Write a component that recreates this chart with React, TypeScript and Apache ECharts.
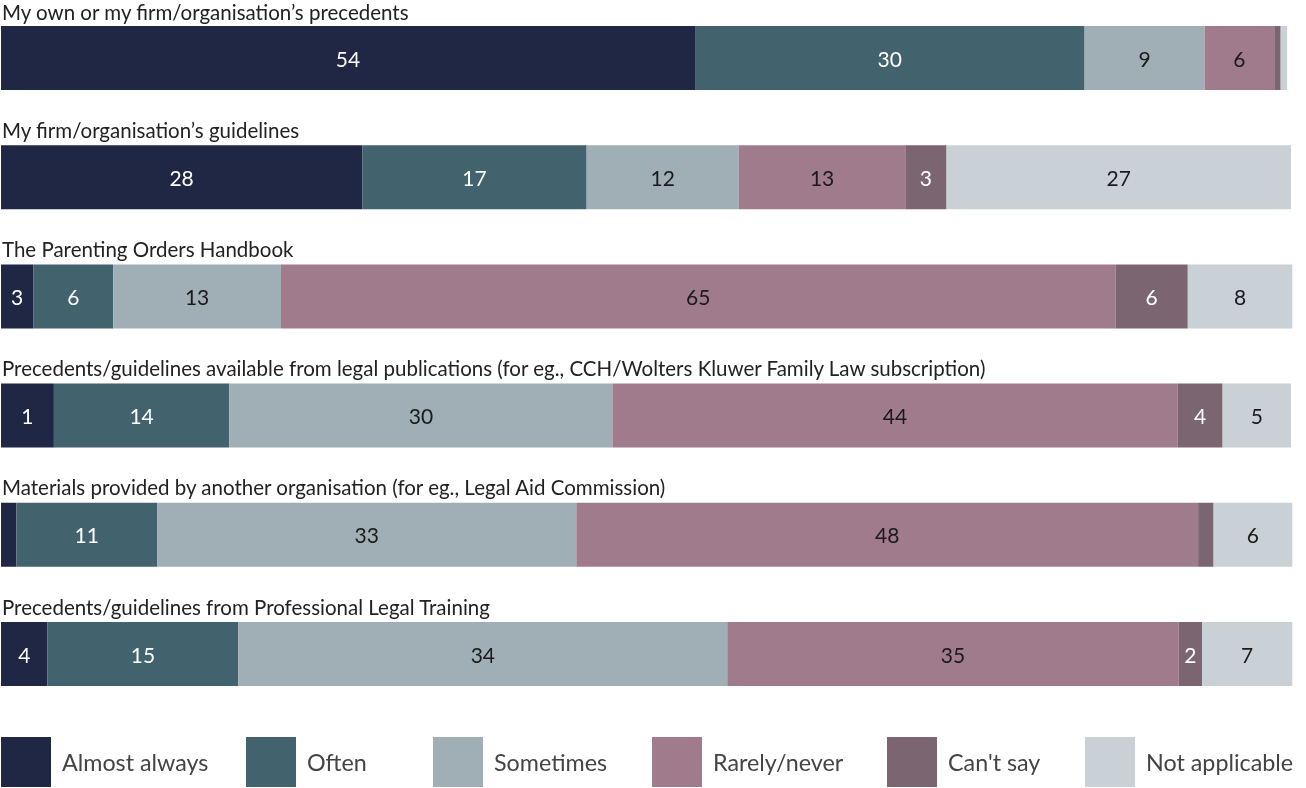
import React, { useEffect, useRef } from "react";
import * as echarts from "echarts";

const categories = [
  "My own or my firm/organisation\u2019s precedents",
  "My firm/organisation\u2019s guidelines",
  "The Parenting Orders Handbook",
  "Precedents/guidelines available from legal publications (for eg., CCH/Wolters Kluwer Family Law subscription)",
  "Materials provided by another organisation (for eg., Legal Aid Commission)",
  "Precedents/guidelines from Professional Legal Training",
];

const seriesNames = ["Almost always", "Often", "Sometimes", "Rarely/never", "Can't say", "Not applicable"];

// Segment widths (percent of respondents) per series, one value per category
const almostAlways = [53.8, 28.0, 2.5, 4.1, 1.2, 3.6];
const often = [30.2, 17.4, 6.2, 13.6, 10.9, 14.8];
const sometimes = [9.3, 11.8, 13.0, 29.7, 32.5, 37.9];
const rarelyNever = [5.4, 12.9, 64.7, 43.8, 48.2, 35.0];
const cantSay = [0.5, 3.2, 5.6, 3.5, 1.2, 1.8];
const notApplicable = [0.5, 26.7, 8.1, 5.3, 6.1, 7.0];

// Printed labels, as shown in the chart
const almostAlwaysLabels = ["54", "28", "3", "1", "", "4"];
const oftenLabels = ["30", "17", "6", "14", "11", "15"];
const sometimesLabels = ["9", "12", "13", "30", "33", "34"];
const rarelyNeverLabels = ["6", "13", "65", "44", "48", "35"];
const cantSayLabels = ["", "3", "6", "4", "", "2"];
const notApplicableLabels = ["", "27", "8", "5", "6", "7"];

const seriesValues = [almostAlways, often, sometimes, rarelyNever, cantSay, notApplicable];
const seriesLabels = [almostAlwaysLabels, oftenLabels, sometimesLabels, rarelyNeverLabels, cantSayLabels, notApplicableLabels];

const colors = ["#1f2744", "#42626e", "#a0aeb5", "#a07b8c", "#7b6570", "#c9d0d6"];
const labelColors = ["#ffffff", "#ffffff", "#1a1a1a", "#1a1a1a", "#ffffff", "#1a1a1a"];
const legendLefts = [1, 246, 433, 652, 887, 1085];

const FONT = "Lato, 'Noto Sans', sans-serif";

export default function App() {
  const ref = useRef<HTMLDivElement>(null);
  useEffect(() => {
    if (!ref.current) return;
    const chart = echarts.init(ref.current, undefined, { renderer: "svg" });
    const gridTop = 58;
    const rowStep = 119.2;
    const option: any = {
      animation: false,
      textStyle: { fontFamily: FONT },
      grid: { left: 1, right: 15, top: gridTop, height: rowStep * (categories.length - 1), containLabel: false },
      xAxis: { type: "value", min: 0, max: 100, show: false },
      yAxis: {
        type: "category",
        data: categories,
        inverse: true,
        boundaryGap: false,
        show: false,
      },
      legend: seriesNames.map((n, i) => ({
        data: [n],
        left: legendLefts[i],
        top: 737,
        padding: 0,
        icon: "rect",
        itemWidth: 50,
        itemHeight: 50,
        textStyle: { fontSize: 23.3, color: "#444", fontFamily: FONT, padding: [0, 0, 0, 6] },
        selectedMode: false,
      })),
      series: seriesNames.map((name, si) => ({
        name,
        type: "bar",
        stack: "total",
        clip: false,
        barWidth: 64,
        itemStyle: { color: colors[si] },
        label: {
          show: true,
          position: "inside",
          color: labelColors[si],
          fontSize: 21,
          fontFamily: FONT,
          formatter: (p: any) => seriesLabels[si][p.dataIndex],
        },
        data: seriesValues[si],
      })),
      graphic: categories.map((c, i) => ({
        type: "text",
        left: 2,
        top: Math.max(1, gridTop + i * rowStep - 58),
        style: { text: c, fontSize: 20.5, lineHeight: 20, fill: "#222", fontFamily: FONT },
      })),
    };
    chart.setOption(option);
    return () => chart.dispose();
  }, []);
  return <div ref={ref} style={{ position: "fixed", left: 0, top: 0, width: 1306, height: 788 }} />;
}
